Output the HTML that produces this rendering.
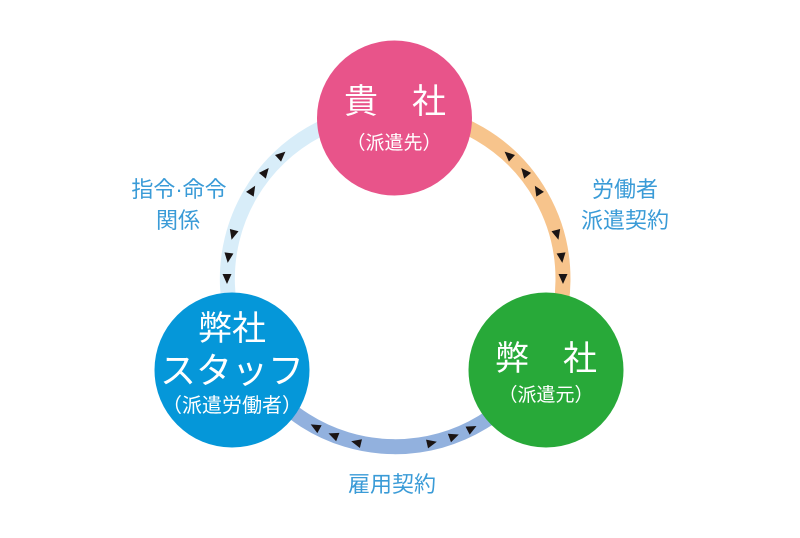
<!DOCTYPE html>
<html><head><meta charset="utf-8"><style>
body{margin:0;background:#fff;width:800px;height:533px;overflow:hidden}
svg text{font-family:"Liberation Sans","Noto Sans CJK JP",sans-serif}
</style></head><body>
<svg width="800" height="533" viewBox="0 0 800 533" xmlns="http://www.w3.org/2000/svg">
<defs>
<path id="tc" d="M-5,-4.5 L5,0 L-5,4.5 Z" fill="#1a1414"/>
</defs>
<g fill="none" stroke-width="15">
<path d="M249.5,362.4 A168,168 0 0 1 395,111" stroke="#d8edf9"/>
<path d="M395,111 A168,168 0 0 1 539,365.5" stroke="#f7c48c"/>
<path d="M539,365.5 A168,168 0 0 1 249.5,362.4" stroke="#92b1de"/>
</g>
<g>
<g transform="rotate(-42.4 395 279)"><use href="#tc" x="395" y="111"/></g>
<g transform="rotate(-50.4 395 279)"><use href="#tc" x="395" y="111"/></g>
<g transform="rotate(-58 395 279)"><use href="#tc" x="395" y="111"/></g>
<g transform="rotate(-74.8 395 279)"><use href="#tc" x="395" y="111" transform="rotate(180 395 111)"/></g>
<g transform="rotate(-82.8 395 279)"><use href="#tc" x="395" y="111" transform="rotate(180 395 111)"/></g>
<g transform="rotate(-90 395 279)"><use href="#tc" x="395" y="111" transform="rotate(180 395 111)"/></g>
<g transform="rotate(42.4 395 279)"><use href="#tc" x="395" y="111" transform="rotate(180 395 111)"/></g>
<g transform="rotate(50.4 395 279)"><use href="#tc" x="395" y="111" transform="rotate(180 395 111)"/></g>
<g transform="rotate(58 395 279)"><use href="#tc" x="395" y="111" transform="rotate(180 395 111)"/></g>
<g transform="rotate(74.8 395 279)"><use href="#tc" x="395" y="111"/></g>
<g transform="rotate(82.8 395 279)"><use href="#tc" x="395" y="111"/></g>
<g transform="rotate(90 395 279)"><use href="#tc" x="395" y="111"/></g>
<g transform="rotate(208.4 395 279)"><use href="#tc" x="395" y="111"/></g>
<g transform="rotate(201.6 395 279)"><use href="#tc" x="395" y="111"/></g>
<g transform="rotate(193.4 395 279)"><use href="#tc" x="395" y="111"/></g>
<g transform="rotate(167.3 395 279)"><use href="#tc" x="395" y="111" transform="rotate(180 395 111)"/></g>
<g transform="rotate(159.4 395 279)"><use href="#tc" x="395" y="111" transform="rotate(180 395 111)"/></g>
<g transform="rotate(152.7 395 279)"><use href="#tc" x="395" y="111" transform="rotate(180 395 111)"/></g>
</g>
<circle cx="394.5" cy="118" r="77.5" fill="#e8548a"/>
<circle cx="232" cy="370" r="77.5" fill="#0597d9"/>
<circle cx="546" cy="370" r="77.5" fill="#28a939"/>
<g fill="#fff" text-anchor="middle">
<text x="395" y="113" font-size="34" xml:space="preserve">貴　社</text>
<text x="394" y="149" font-size="19">（派遣先）</text>
<text x="232" y="340" font-size="34">弊社</text>
<text x="232" y="383" font-size="36">スタッフ</text>
<text x="232" y="412" font-size="20">（派遣労働者）</text>
<text x="546" y="370" font-size="34" xml:space="preserve">弊　社</text>
<text x="546" y="401" font-size="19">（派遣元）</text>
</g>
<g fill="#3a9bd7" text-anchor="middle" font-size="22">
<text x="179" y="197">指令·命令</text>
<text x="178" y="228">関係</text>
<text x="625" y="197">労働者</text>
<text x="625" y="228">派遣契約</text>
<text x="392" y="492">雇用契約</text>
</g>
</svg>
</body></html>
